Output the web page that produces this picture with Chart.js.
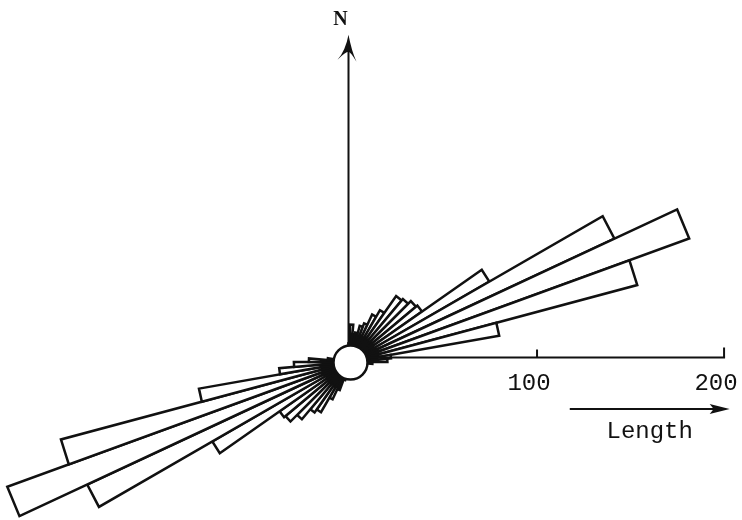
<!DOCTYPE html>
<html>
<head>
<meta charset="utf-8">
<script src="https://cdn.jsdelivr.net/npm/chart.js@4/dist/chart.umd.min.js"></script>
<style>
html,body{margin:0;padding:0;background:#fff;overflow:hidden}
#wrap{width:742px;height:520px;position:relative}
</style>
</head>
<body>
<div id="wrap"><canvas id="c" width="742" height="520"></canvas></div>
<script>
// Azimuth classes (start of each 5° bin, clockwise from north)
const binStartDeg = [0,5,10,15,20,25,30,35,40,45,50,55,60,65,70,75,80,85,
  90,95,100,105,110,115,120,125,130,135,140,145,150,155,160,165,170,175,
  180,185,190,195,200,205,210,215,220,225,230,235,240,245,250,255,260,265,
  270,275,280,285,290,295,300,305,310,315,320,325,330,335,340,345,350,355];
// Total lineament length per bin, 0–180°
const lengthsNE = [20,15,16,20,22,28,32,43,44,46,47,86,156,193,159,81,22,20,
  12,8,7,6,6,5,6,5,6,7,6,5,6,6,5,6,7,8];
// Total lineament length per bin, 180–360°
const lengthsSW = [8,7,8,10,16,22,31,33,40,45,46,85,155,195,160,82,38,30,
  22,12,8,7,6,5,6,6,5,6,5,6,6,5,6,7,8,10];
const lengthTicks = [100, 200];
const northLabel = 'N';
const axisTitle = 'Length';

const roseLengths = lengthsNE.concat(lengthsSW);

const overlay = {
  id: 'overlay',
  afterDatasetsDraw(chart) {
    const r = chart.scales.r;
    const cx = r.xCenter, cy = r.yCenter;
    const d = v => r.getDistanceFromCenterForValue(v);
    const ctx = chart.ctx;
    ctx.save();
    ctx.strokeStyle = '#111';
    ctx.fillStyle = '#111';
    ctx.lineCap = 'butt';

    // North axis
    const ax = cx - 1.5;
    const tipY = cy - d(175);
    ctx.lineWidth = 2;
    ctx.beginPath(); ctx.moveTo(ax, cy - 10); ctx.lineTo(ax, tipY + 8); ctx.stroke();
    ctx.beginPath();
    ctx.moveTo(ax, tipY);
    ctx.quadraticCurveTo(ax + 3, tipY + 16, ax + 8, tipY + 27);
    ctx.quadraticCurveTo(ax + 2, tipY + 17, ax, tipY + 17);
    ctx.quadraticCurveTo(ax - 3, tipY + 17, ax - 11, tipY + 25);
    ctx.quadraticCurveTo(ax - 3, tipY + 16, ax, tipY);
    ctx.closePath(); ctx.fill();

    ctx.font = 'bold 20px "Liberation Serif"';
    ctx.textAlign = 'center';
    ctx.textBaseline = 'alphabetic';
    ctx.fillText(northLabel, ax - 8, 25);

    // Length axis
    const hy = cy - 4.5;
    ctx.lineWidth = 2;
    ctx.beginPath(); ctx.moveTo(cx + 20, hy); ctx.lineTo(cx + d(lengthTicks[lengthTicks.length - 1]) + 1, hy); ctx.stroke();
    ctx.font = '24px "Liberation Mono"';
    lengthTicks.forEach((t, i) => {
      const x = cx + d(t);
      ctx.beginPath(); ctx.moveTo(x, hy); ctx.lineTo(x, hy - (i === lengthTicks.length - 1 ? 10 : 8)); ctx.stroke();
      ctx.fillText(String(t), x - 8, 390);
    });

    // Length arrow
    const ay = 409;
    const x0 = cx + d(117.5), x1 = cx + d(203);
    ctx.beginPath(); ctx.moveTo(x0, ay); ctx.lineTo(x1 - 12, ay); ctx.stroke();
    ctx.beginPath(); ctx.moveTo(x1, ay); ctx.lineTo(x1 - 20, ay - 5); ctx.lineTo(x1 - 16, ay); ctx.lineTo(x1 - 20, ay + 5); ctx.closePath(); ctx.fill();
    ctx.fillText(axisTitle, (x0 + x1) / 2, 438);

    // Centre circle
    ctx.beginPath();
    ctx.arc(cx + 0.5, cy + 0.5, 17, 0, Math.PI * 2);
    ctx.fillStyle = '#fff'; ctx.fill();
    ctx.lineWidth = 2.5; ctx.stroke();
    ctx.restore();
  }
};

new Chart(document.getElementById('c'), {
  type: 'polarArea',
  data: {
    labels: binStartDeg.map(b => b + '°'),
    datasets: [{
      data: roseLengths,
      backgroundColor: '#ffffff',
      borderColor: '#111111',
      borderWidth: 2.5,
      borderJoinStyle: 'miter',
      circular: false,
      clip: false
    }]
  },
  options: {
    responsive: false,
    animation: false,
    layout: { padding: { left: 200, right: 242, top: 212, bottom: 8 } },
    plugins: { legend: { display: false }, tooltip: { enabled: false } },
    scales: {
      r: {
        min: 0,
        max: 80.2,
        startAngle: 0,
        grid: { display: false },
        angleLines: { display: false },
        ticks: { display: false },
        pointLabels: { display: false }
      }
    }
  },
  plugins: [overlay]
});
</script>
</body>
</html>
